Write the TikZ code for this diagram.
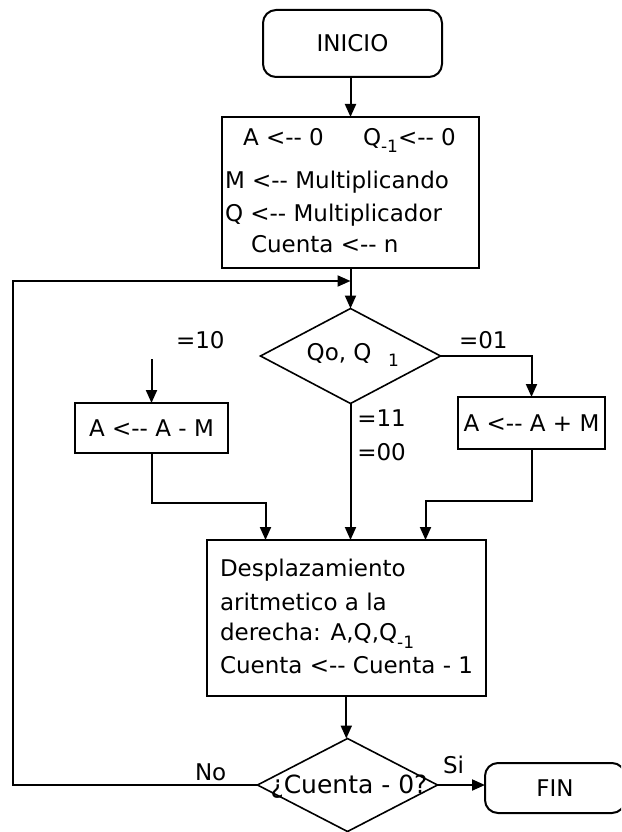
\documentclass[tikz,border=0pt]{standalone}
\usepackage{fontspec}
\setmainfont{DejaVu Sans}[Ligatures=TeXOff]
\usetikzlibrary{shapes.geometric,arrows.meta}
% lowered, smaller index such as the -1 of Q-1
\newcommand{\lowsub}[1]{\raisebox{-8pt}{\fontsize{17pt}{17pt}\selectfont #1}}

\begin{document}
\begin{tikzpicture}[x=1pt,y=-1pt,
  every node/.style={font=\fontsize{23pt}{27pt}\selectfont, inner sep=0pt, outer sep=0pt},
  box/.style={draw, line width=2pt, rectangle},
  term/.style={box, rounded corners=13pt},
  decision/.style={draw, line width=1.6pt, diamond},
  txt/.style={anchor=base west},
  arr/.style={line width=2pt, -{Triangle[length=13pt,width=11pt]}}]

\useasboundingbox (0,0) rectangle (621,832);
\fill[white] (0,0) rectangle (621,832);
\clip (0,0) rectangle (621,832);

% start
\node[term, minimum width=179pt, minimum height=67pt] (inicio) at (352.5,43.5) {INICIO};

% initialisation block
\node[box, minimum width=257pt, minimum height=151pt] (init) at (350.5,192.5) {};
\node[txt] (i1a) at (243,145) {A <-- 0};
\node[txt] (i1b) at (363,145) {Q\lowsub{-1}<-- 0};
\node[txt] (i2) at (225,188) {M <-- Multiplicando};
\node[txt] (i3) at (225,221) {Q <-- Multiplicador};
\node[txt] (i4) at (251,252) {Cuenta <-- n};

% test of Q0, Q-1
\node[decision, minimum width=180pt, minimum height=95pt] (dec1) at (350.5,356) {};
\node[txt] (d1a) at (306.7,360) {Qo, Q};
\node[txt, font=\fontsize{17pt}{17pt}\selectfont] (d1b) at (388,366) {1};

% branch operations
\node[box, minimum width=153pt, minimum height=50pt] (lbox) at (151.5,428) {A <-- A - M};
\node[box, minimum width=147pt, minimum height=52pt] (rbox) at (531.5,423) {A <-- A + M};

% shift block
\node[box, minimum width=279pt, minimum height=156pt] (shift) at (346.3,618) {};
\node[txt] (s1) at (220,576.7) {Desplazamiento};
\node[txt] (s2) at (220,610) {aritmetico a la};
\node[txt] (s3) at (220,640) {derecha: A,Q,Q\lowsub{-1}};
\node[txt] (s4) at (220,673) {Cuenta <-- Cuenta - 1};

% end test
\node[decision, minimum width=180pt, minimum height=93pt] (dec2) at (347.5,785) {};
\node[anchor=base, font=\fontsize{25pt}{27pt}\selectfont] (d2) at (349,793) {¿Cuenta - 0?};

% end
\node[term, minimum width=140pt, minimum height=50pt] (fin) at (555,788) {FIN};

% branch labels
\node[txt] (l10) at (176,348) {=10};
\node[txt] (l01) at (459,348) {=01};
\node[txt] (l11) at (357.3,426.7) {=11};
\node[txt] (l00) at (357.3,460) {=00};
\node[txt] (lsi) at (443,773) {Si};
\node[txt] (lno) at (195,780) {No};

% helper points of the connectors
\coordinate (loopY) at (13,281);
\coordinate (lstart) at (151.5,359);
\coordinate (lmid) at (265.5,502.5);
\coordinate (rmid) at (425.5,500.5);

% connectors
\draw[arr] (init.north |- inicio.south) -- (init.north);
\draw[arr] (init.south) -- (init.south |- dec1.north);
\draw[arr] (dec2.west) -| (loopY) -- (dec1.north |- loopY);
\draw[arr] (lstart) -- (lbox.north);
\draw[arr] (dec1.east) -| (rbox.north);
\draw[arr] (dec1.south) -- (dec1.south |- shift.north);
\draw[arr] (lbox.south) |- (lmid) -- (lmid |- shift.north);
\draw[arr] (rbox.south) |- (rmid) -- (rmid |- shift.north);
\draw[arr] (shift.south) -- (shift.south |- dec2.north);
\draw[arr] (dec2.east) -- (dec2.east -| fin.west);
\end{tikzpicture}
\end{document}
